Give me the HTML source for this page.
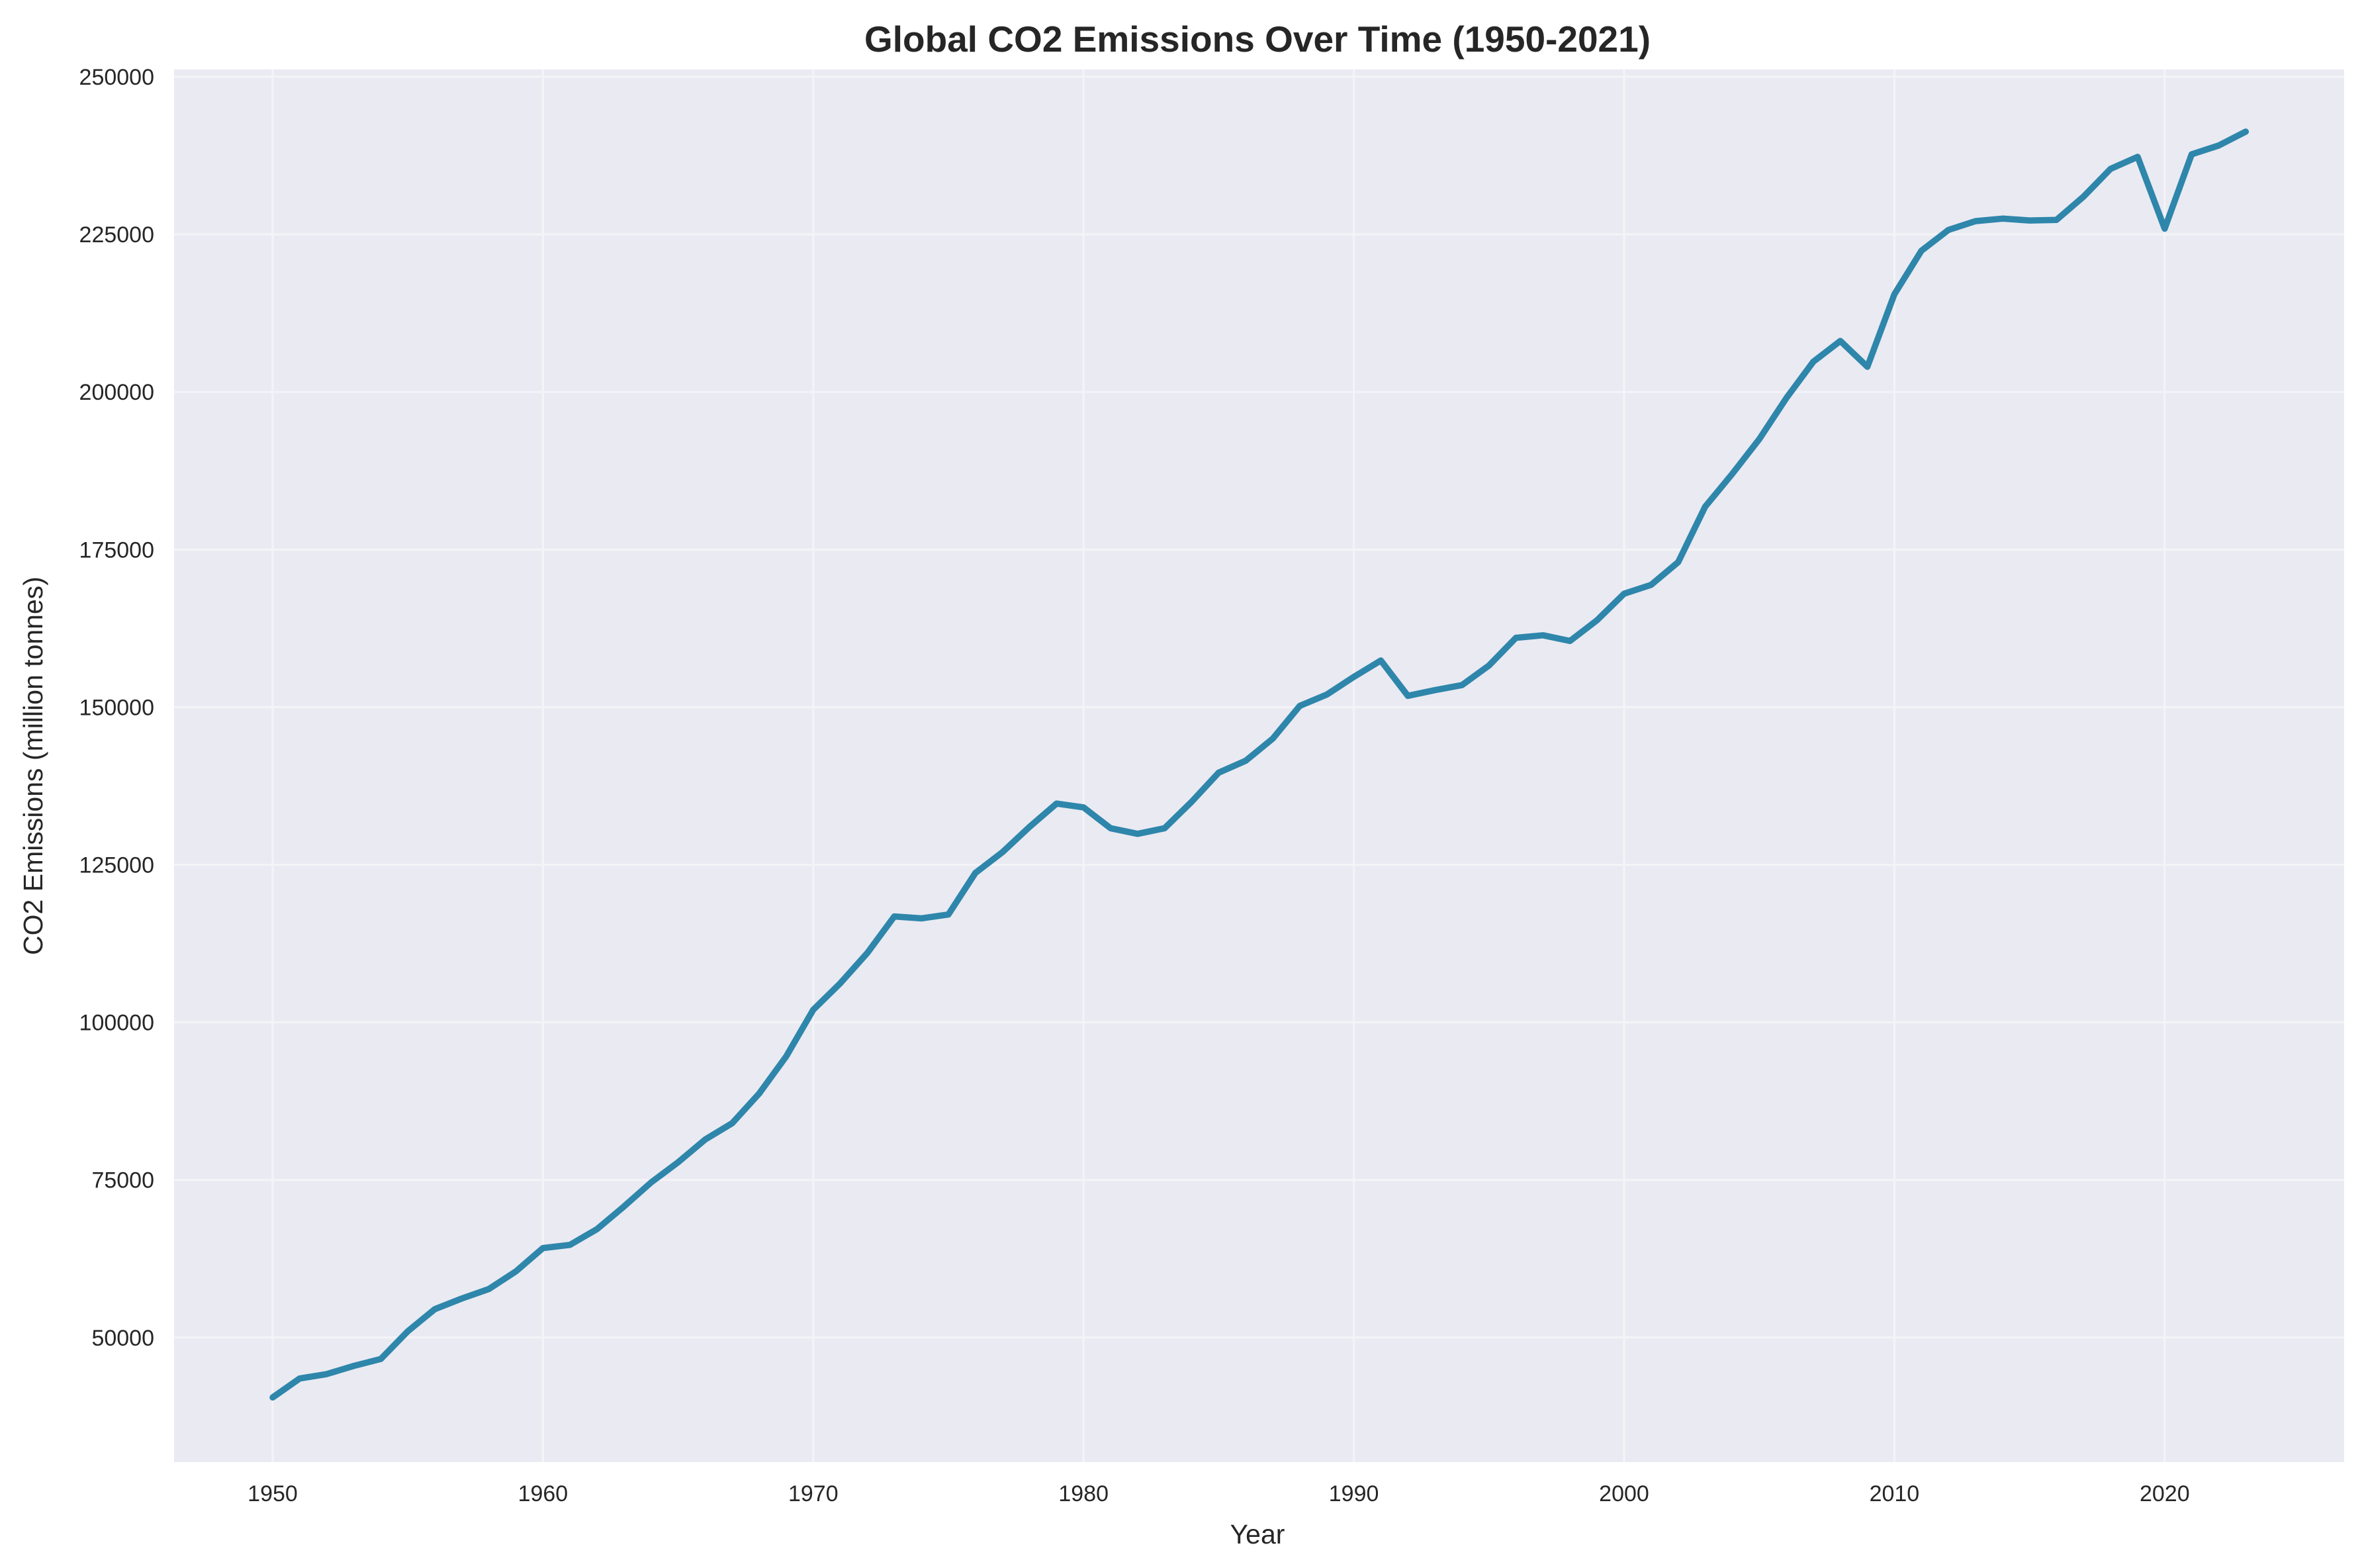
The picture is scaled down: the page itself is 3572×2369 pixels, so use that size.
<!DOCTYPE html>
<html><head><meta charset="utf-8"><style>
html,body{margin:0;padding:0;background:#fff;}
svg{display:block;font-family:"Liberation Sans",Arial,sans-serif;}
</style></head><body>
<svg id="chart" width="3572" height="2369" viewBox="0 0 3572 2369">
<rect x="263" y="105" width="3279" height="2104" fill="#eaeaf2"/>
<g id="grid"></g>
<g id="ticks"></g>
<polyline id="series" fill="none" stroke="#2e86ab" stroke-width="9.5" stroke-linejoin="round" stroke-linecap="round"/>
<text x="1900" y="78" text-anchor="middle" font-size="55" font-weight="bold" fill="#262626">Global CO2 Emissions Over Time (1950-2021)</text>
<text x="1900" y="2332" text-anchor="middle" font-size="41" fill="#262626">Year</text>
<text transform="translate(64,1157) rotate(-90)" text-anchor="middle" font-size="41" fill="#262626">CO2 Emissions (million tonnes)</text>
</svg>
<script>
const years = [];
for (let y = 1950; y <= 2023; y++) years.push(y);
const emissions = [40500,43500,44200,45500,46600,51000,54500,56200,57700,60500,
64200,64700,67200,70800,74600,77800,81400,84000,88700,94600,
102000,106200,111000,116800,116500,117100,123700,127000,131000,134700,
134100,130800,129900,130800,135000,139600,141500,145000,150200,152000,
154800,157400,151800,152700,153500,156600,161000,161400,160500,163800,
168000,169400,173000,181800,187000,192500,199000,204800,208100,204000,
215500,222400,225700,227100,227500,227200,227300,231000,235400,237300,
225900,237700,239100,241300];
const xTicks = [1950,1960,1970,1980,1990,2000,2010,2020];
const yTicks = [50000,75000,100000,125000,150000,175000,200000,225000,250000];

const L = 263, R = 3542, T = 105, B = 2209;
function xs(v){ return 412 + (v - 1950) * 40.84; }
function ys(v){ return 116 + (250000 - v) / 25000 * 238.1; }

const NS = "http://www.w3.org/2000/svg";
const grid = document.getElementById('grid');
const ticks = document.getElementById('ticks');
xTicks.forEach(t => {
  const l = document.createElementNS(NS,'line');
  l.setAttribute('x1', xs(t)); l.setAttribute('x2', xs(t));
  l.setAttribute('y1', T); l.setAttribute('y2', B);
  l.setAttribute('stroke', '#f4f4f8'); l.setAttribute('stroke-width', '3');
  
  
  grid.appendChild(l);
  const tx = document.createElementNS(NS,'text');
  tx.setAttribute('x', xs(t)); tx.setAttribute('y', 2268);
  tx.setAttribute('text-anchor', 'middle'); tx.setAttribute('font-size', '34');
  tx.setAttribute('fill', '#262626');
  tx.textContent = t;
  
  
  ticks.appendChild(tx);
});
yTicks.forEach(t => {
  const l = document.createElementNS(NS,'line');
  l.setAttribute('x1', L); l.setAttribute('x2', R);
  l.setAttribute('y1', ys(t)); l.setAttribute('y2', ys(t));
  l.setAttribute('stroke', '#f4f4f8'); l.setAttribute('stroke-width', '3');
  
  
  grid.appendChild(l);
  const tx = document.createElementNS(NS,'text');
  tx.setAttribute('x', 233); tx.setAttribute('y', ys(t) + 12);
  tx.setAttribute('text-anchor', 'end'); tx.setAttribute('font-size', '34');
  tx.setAttribute('fill', '#262626');
  tx.textContent = t;
  
  
  ticks.appendChild(tx);
});
document.getElementById('series').setAttribute('points',
  years.map((y,i) => xs(y).toFixed(1) + ',' + ys(emissions[i]).toFixed(1)).join(' '));
</script>
</body></html>
